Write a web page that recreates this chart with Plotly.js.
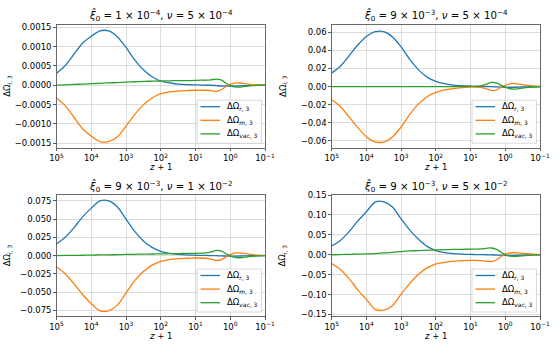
<!DOCTYPE html>
<html>
<head>
<meta charset="utf-8">
<script src="https://cdn.plot.ly/plotly-3.0.1.min.js"></script>
<style>
  html, body { margin: 0; padding: 0; background: #fff; }
  #chart { width: 560px; height: 350px; }
</style>
</head>
<body>
<div id="chart"></div>
<script>
// z + 1 sample points (read along the log axis, 10^5 .. 10^-1)
const zp1 = [1e5, 56234, 31623, 17783, 1e4, 5623, 3162, 1778, 1000, 562, 316, 178, 100,
             56.2, 31.6, 17.8, 10, 7.08, 5.01, 3.55, 2.51, 1.78, 1.26, 0.891, 0.631,
             0.447, 0.316, 0.224, 0.158, 0.1];

// --- panel 1: xi0 = 1e-4, nu = 5e-4 ---
const p1_r = [0.00031, 0.00051, 0.00080, 0.00109, 0.00127, 0.00141, 0.00141, 0.00126, 0.00098, 0.00066,
              0.00040, 0.00022, 0.00011, 0.00006, 0.00003, 0.000015, 0.00001, 0.000005, 0, 0,
              -0.00001, -0.00002, -0.00002, -0.00002, -0.00002, -0.00001, -0.00001, 0, 0, 0];
const p1_m = [-0.00033, -0.00053, -0.00083, -0.00113, -0.00132, -0.00146, -0.00146, -0.00134, -0.00106, -0.00076,
              -0.00051, -0.00033, -0.00022, -0.00017, -0.00015, -0.00014, -0.00013, -0.00013, -0.00013, -0.00014,
              -0.00016, -0.00011, -0.00002, 0.00004, 0.00006, 0.00005, 0.00003, 0.00001, 0.000005, 0];
const p1_v = [0.000005, 0.00001, 0.00002, 0.00003, 0.00004, 0.00005, 0.00006, 0.00007, 0.00008, 0.00009,
              0.0001, 0.000105, 0.00011, 0.000115, 0.00012, 0.00012, 0.000125, 0.00013, 0.00013, 0.00014,
              0.00016, 0.00013, 0.00004, -0.00003, -0.00005, -0.00004, -0.00002, -0.00001, 0, 0];

// --- panel 2: xi0 = 9e-3, nu = 5e-4 ---
const p2_r = [0.0150, 0.0225, 0.0340, 0.0460, 0.0555, 0.0607, 0.0607, 0.0550, 0.0440, 0.0300,
              0.0185, 0.0105, 0.0058, 0.0032, 0.0017, 0.0009, 0.0004, 0.0002, 0.0001, 0,
              -0.0001, -0.0004, -0.0007, -0.0009, -0.0009, -0.0007, -0.0005, -0.0003, -0.0001, 0];
const p2_m = [-0.0145, -0.0220, -0.0335, -0.0455, -0.0555, -0.0612, -0.0614, -0.0558, -0.0448, -0.0308,
              -0.0192, -0.0112, -0.0065, -0.0038, -0.0022, -0.0012, -0.0006, -0.0006, -0.0010, -0.0025,
              -0.0044, -0.0036, -0.0003, 0.0022, 0.0033, 0.0030, 0.0021, 0.0013, 0.0007, 0.0003];
const p2_v = [0, 0, 0, 0, 0, 0, 0, 0, 0, 0,
              0, 0, 0, 0, 0, 0, 0.0001, 0.0003, 0.0008, 0.0025,
              0.0046, 0.0040, 0.0010, -0.0015, -0.0027, -0.0025, -0.0017, -0.0010, -0.0005, -0.0002];

// --- panel 3: xi0 = 9e-3, nu = 1e-2 ---
const p3_r = [0.0158, 0.0250, 0.0380, 0.0530, 0.0650, 0.0750, 0.0750, 0.0670, 0.0500, 0.0330,
              0.0200, 0.0112, 0.0058, 0.0030, 0.0015, 0.0008, 0.0004, 0.0002, 0.0001, 0,
              -0.0002, -0.0005, -0.0007, -0.0008, -0.0008, -0.0006, -0.0004, -0.0002, -0.0001, 0];
const p3_m = [-0.0155, -0.0250, -0.0385, -0.0535, -0.0660, -0.0758, -0.0758, -0.0680, -0.0515, -0.0345,
              -0.0220, -0.0132, -0.0080, -0.0055, -0.0042, -0.0037, -0.0034, -0.0034, -0.0037, -0.0050,
              -0.0066, -0.0055, -0.0013, 0.0023, 0.0036, 0.0033, 0.0022, 0.0012, 0.0006, 0.0002];
const p3_v = [0, 0.0001, 0.0002, 0.0004, 0.0006, 0.0008, 0.0010, 0.0012, 0.0015, 0.0017,
              0.0019, 0.0021, 0.0023, 0.0025, 0.0027, 0.0029, 0.0030, 0.0032, 0.0036, 0.0050,
              0.0070, 0.0060, 0.0020, -0.0015, -0.0030, -0.0027, -0.0018, -0.0010, -0.0005, -0.0001];

// --- panel 4: xi0 = 9e-3, nu = 5e-2 ---
const p4_r = [0.022, 0.036, 0.058, 0.085, 0.108, 0.132, 0.133, 0.120, 0.090, 0.062,
              0.039, 0.021, 0.0105, 0.0055, 0.003, 0.0015, 0.0008, 0.0005, 0.0003, 0,
              -0.0004, -0.0009, -0.0013, -0.0015, -0.0015, -0.0012, -0.0008, -0.0005, -0.0002, 0];
const p4_m = [-0.022, -0.037, -0.060, -0.088, -0.112, -0.137, -0.139, -0.128, -0.099, -0.072,
              -0.049, -0.033, -0.023, -0.019, -0.016, -0.015, -0.014, -0.014, -0.0145, -0.016,
              -0.017, -0.0125, -0.003, 0.003, 0.005, 0.0047, 0.0035, 0.0025, 0.0015, 0.0005];
const p4_v = [0, 0.0005, 0.001, 0.0015, 0.002, 0.003, 0.0045, 0.006, 0.008, 0.0095,
              0.0105, 0.0115, 0.012, 0.0128, 0.0133, 0.0137, 0.014, 0.0143, 0.0147, 0.016,
              0.017, 0.0135, 0.005, -0.002, -0.004, -0.0037, -0.0027, -0.0017, -0.0009, -0.0004];

const panelTitles = [
  '<i>ξ̂</i><sub>0</sub> = 1 × 10<sup>−4</sup>, <i>ν</i> = 5 × 10<sup>−4</sup>',
  '<i>ξ̂</i><sub>0</sub> = 9 × 10<sup>−3</sup>, <i>ν</i> = 5 × 10<sup>−4</sup>',
  '<i>ξ̂</i><sub>0</sub> = 9 × 10<sup>−3</sup>, <i>ν</i> = 1 × 10<sup>−2</sup>',
  '<i>ξ̂</i><sub>0</sub> = 9 × 10<sup>−3</sup>, <i>ν</i> = 5 × 10<sup>−2</sup>'
];
const seriesNames = ['ΔΩ<sub><i>r</i>, 3</sub>', 'ΔΩ<sub><i>m</i>, 3</sub>', 'ΔΩ<sub><i>vac</i>, 3</sub>'];
const colors = ['#1f77b4', '#ff7f0e', '#2ca02c'];
const xTickVals = [1e5, 1e4, 1e3, 1e2, 1e1, 1, 0.1];
const xTickText = ['10<sup>5</sup>', '10<sup>4</sup>', '10<sup>3</sup>', '10<sup>2</sup>',
                   '10<sup>1</sup>', '10<sup>0</sup>', '10<sup>−1</sup>'];

const panels = [
  { series: [p1_r, p1_m, p1_v], yrange: [-0.00162, 0.00157], dtick: 0.0005, fmt: '.4f' },
  { series: [p2_r, p2_m, p2_v], yrange: [-0.0677, 0.0685], dtick: 0.02, fmt: '.2f' },
  { series: [p3_r, p3_m, p3_v], yrange: [-0.0836, 0.0830], dtick: 0.025, fmt: '.3f' },
  { series: [p4_r, p4_m, p4_v], yrange: [-0.155, 0.150], dtick: 0.05, fmt: '.2f' }
];

// pixel boxes of the four axes (left, right, top, bottom)
const W = 560, H = 350;
const boxes = [
  [56.5, 265, 24.7, 147.7],
  [331.7, 540, 24.7, 147.7],
  [56.5, 265, 195, 316.5],
  [331.7, 540, 195, 316.5]
];

const px = v => v / W;
const py = v => 1 - v / H;

const data = [];
const layout = {
  width: W, height: H,
  margin: { l: 0, r: 0, t: 0, b: 0 },
  paper_bgcolor: '#fff', plot_bgcolor: '#fff',
  font: { family: 'DejaVu Sans, sans-serif', size: 8.5, color: '#000' },
  annotations: [],
  shapes: [],
  showlegend: false
};

panels.forEach((p, i) => {
  const n = i + 1;
  const sfx = n === 1 ? '' : String(n);
  const [l, r, t, b] = boxes[i];

  p.series.forEach((ys, k) => {
    data.push({
      x: zp1, y: ys,
      xaxis: 'x' + sfx, yaxis: 'y' + sfx,
      type: 'scatter', mode: 'lines',
      name: seriesNames[k],
      line: { color: colors[k], width: 1.3, shape: 'spline', smoothing: 0.8 }
    });
  });

  layout['xaxis' + sfx] = {
    type: 'log', range: [5, -1],
    domain: [px(l), px(r)], anchor: 'y' + sfx,
    tickvals: xTickVals, ticktext: xTickText,
    ticks: 'outside', ticklen: 2.5, tickwidth: 0.8, tickcolor: '#333',
    showgrid: true, gridcolor: '#d3d3d3', gridwidth: 0.8,
    showline: true, mirror: true, linecolor: '#444', linewidth: 0.8,
    zeroline: false, tickfont: { size: 8.5 }
  };
  layout['yaxis' + sfx] = {
    range: p.yrange, dtick: p.dtick, tick0: 0, tickformat: p.fmt,
    domain: [py(b), py(t)], anchor: 'x' + sfx,
    ticks: 'outside', ticklen: 2.5, tickwidth: 0.8, tickcolor: '#333',
    showgrid: true, gridcolor: '#d3d3d3', gridwidth: 0.8,
    showline: true, mirror: true, linecolor: '#444', linewidth: 0.8,
    zeroline: false, tickfont: { size: 8.5 }
  };

  // --- legend box drawn like matplotlib's (lower right) ---
  const lgL = r - 68, lgR = r - 3.5, lgT = b - 47.5, lgB = b - 4.5;
  layout.shapes.push({
    type: 'rect', xref: 'paper', yref: 'paper',
    x0: px(lgL), x1: px(lgR), y0: py(lgB), y1: py(lgT),
    fillcolor: 'rgba(255,255,255,0.85)', line: { color: '#d0d0d0', width: 0.8 }
  });
  seriesNames.forEach((name, k) => {
    const rowY = lgT + 6.5 + k * 13.6;
    layout.shapes.push({
      type: 'line', xref: 'paper', yref: 'paper',
      x0: px(lgL + 3.5), x1: px(lgL + 23), y0: py(rowY), y1: py(rowY),
      line: { color: colors[k], width: 1.3 }
    });
    layout.annotations.push({
      text: name, x: px(lgL + 28), y: py(rowY),
      xref: 'paper', yref: 'paper', xanchor: 'left', yanchor: 'middle',
      showarrow: false, font: { size: 8.5 }
    });
  });

  const cx = px((l + r) / 2);
  // panel title
  layout.annotations.push({
    text: panelTitles[i], x: cx, y: py(t - 9),
    xref: 'paper', yref: 'paper', xanchor: 'center', yanchor: 'middle',
    showarrow: false, font: { size: 10.2 }
  });
  // x axis label
  layout.annotations.push({
    text: '<i>z</i> + 1', x: cx, y: py(b + 19),
    xref: 'paper', yref: 'paper', xanchor: 'center', yanchor: 'middle',
    showarrow: false, font: { size: 8.5 }
  });
  // y axis label
  layout.annotations.push({
    text: 'ΔΩ<sub><i>i</i>, 3</sub>', x: px(l - 49), y: py((t + b) / 2),
    xref: 'paper', yref: 'paper', xanchor: 'center', yanchor: 'middle',
    textangle: -90, showarrow: false, font: { size: 8.5 }
  });
});

Plotly.newPlot('chart', data, layout, { displayModeBar: false, staticPlot: true });
</script>
</body>
</html>
